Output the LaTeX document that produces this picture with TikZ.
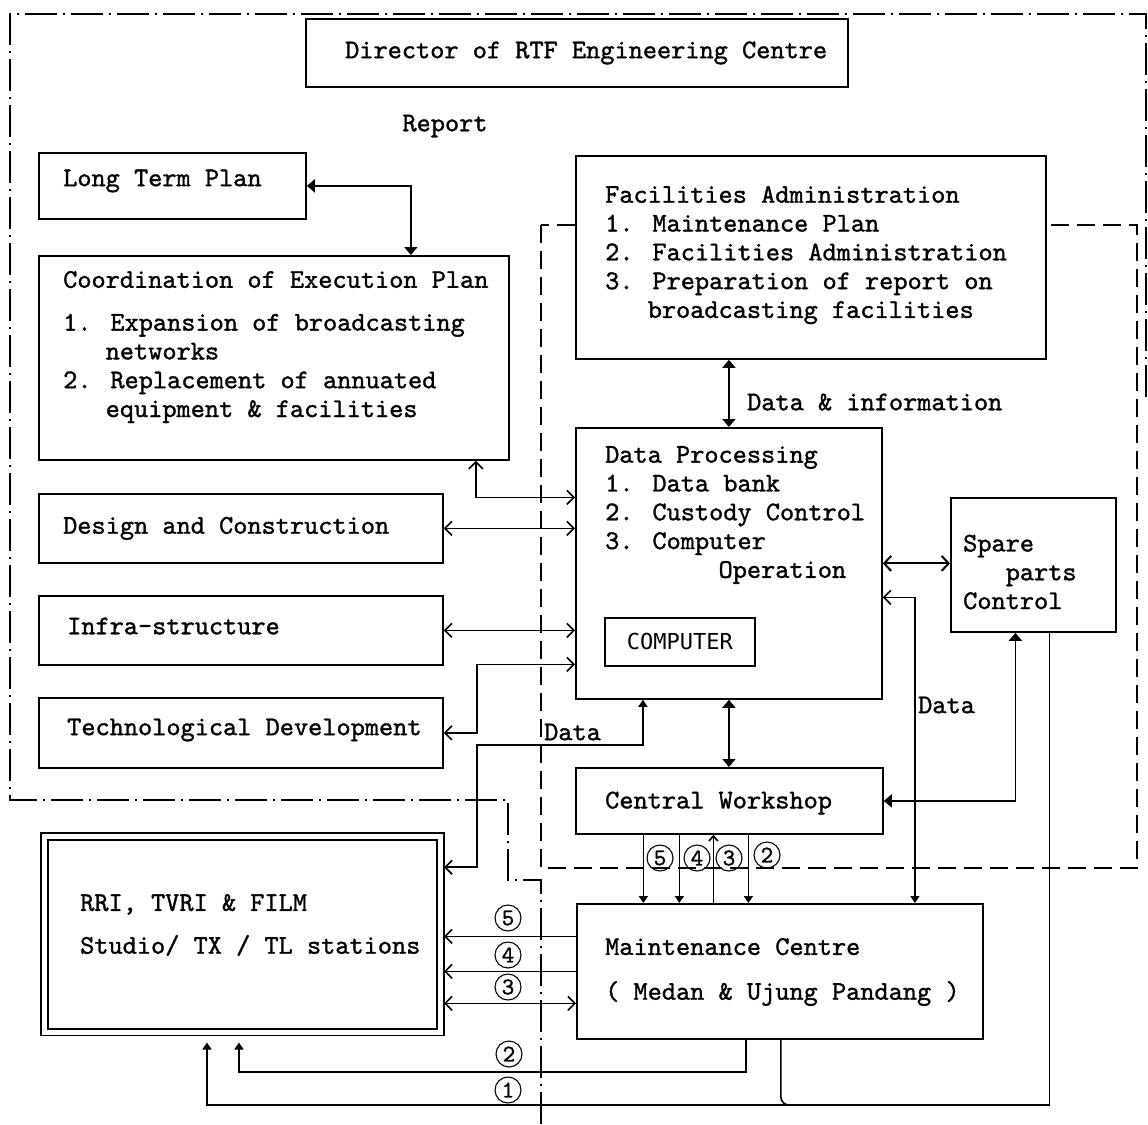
\documentclass[tikz,border=0pt]{standalone}
\usepackage{fontspec}
\usepackage{tikz}
\usetikzlibrary{arrows.meta,positioning}
\newfontfamily\rtftype[FakeBold=1.2]{lmmono10-regular.otf}
\newfontfamily\rtfgothic{DejaVu Sans Mono}
\newcommand{\itemind}{\hspace*{1.575em}}
\tikzset{
  unitbox/.style={rectangle, draw, line width=1.8pt, fill=white, anchor=north west, inner sep=0pt},
  boxtext/.style={anchor=west, align=left, inner sep=0pt, font=\rtftype\fontsize{27}{28.8}\selectfont},
  numcircle/.style={circle, draw, line width=1.1pt, minimum size=26pt, inner sep=0pt,
    font=\rtftype\fontsize{24}{24}\selectfont},
  flowline/.style={line width=1.6pt},
  solidboth/.style={flowline, {Triangle[length=8pt,width=13pt]}-{Triangle[length=8pt,width=13pt]}},
  solidend/.style={flowline, -{Triangle[length=7pt,width=9pt]}},
  openboth/.style={flowline, {Straight Barb[length=7pt,width=14pt]}-{Straight Barb[length=7pt,width=14pt]}},
  openend/.style={flowline, -{Straight Barb[length=7pt,width=14pt]}},
  outerframe/.style={line width=1.5pt, dash pattern=on 32pt off 6pt on 2pt off 6pt},
  innerframe/.style={line width=1.8pt, dash pattern=on 18pt off 8pt},
}
\begin{document}
\begin{tikzpicture}[x=1pt, y=-1pt]
  \useasboundingbox (0,0) rectangle (1148,1124);

  % frames
  \draw[innerframe] (541,225) rectangle (1137,868);
  \draw[outerframe] (541,1124) -- (541,880) -- (508,880) -- (508,800) -- (10,800)
    -- (10,14) -- (1146,14) -- (1146,400);

  % planning side
  \node[unitbox, minimum width=542pt, minimum height=68pt] (director) at (305,18) {};
  \node[boxtext, right=40pt of director.west] (directortext) {Director of RTF Engineering Centre};
  \node[boxtext, anchor=center] (reporttext) at (445,126) {Report};

  \node[unitbox, minimum width=267pt, minimum height=66pt] (ltp) at (38,152) {};
  \node[boxtext] (ltptext) at (63,181) {Long Term Plan};

  \node[unitbox, minimum width=470pt, minimum height=204pt] (coord) at (38,255) {};
  \node[boxtext] (coordtext) at (63,347)
    {Coordination of Execution Plan\\[14pt]
     1. Expansion of broadcasting\\
     \itemind networks\\
     2. Replacement of annuated\\
     \itemind equipment \& facilities};

  \node[unitbox, minimum width=404pt, minimum height=69pt] (design) at (38,493) {};
  \node[boxtext, right=25pt of design.west] (designtext) {Design and Construction};

  \node[unitbox, minimum width=404pt, minimum height=69pt] (infra) at (38,595) {};
  \node[boxtext] (infratext) at (67,626) {Infra-structure};

  \node[unitbox, minimum width=404pt, minimum height=70pt] (tech) at (38,697) {};
  \node[boxtext] (techtext) at (67,730) {Technological Development};

  % facilities side
  \node[unitbox, minimum width=470pt, minimum height=203pt] (fac) at (575,155) {};
  \node[boxtext] (factext) at (605,255)
    {Facilities Administration\\
     1. Maintenance Plan\\
     2. Facilities Administration\\
     3. Preparation of report on\\
     \itemind broadcasting facilities};

  \node[unitbox, minimum width=306pt, minimum height=271pt] (dp) at (575,427) {};
  \node[boxtext] (dptext) at (605,515)
    {Data Processing\\
     1. Data bank\\
     2. Custody Control\\
     3. Computer\\
     \hspace*{4.2em}Operation};
  \node[unitbox, minimum width=150pt, minimum height=48pt, line width=1.6pt,
    font=\rtfgothic\fontsize{22}{22}\selectfont] (comp) at (604,617) {COMPUTER};

  \node[unitbox, minimum width=165pt, minimum height=134pt] (spare) at (950,497) {};
  \node[boxtext] (sparetext) at (963,572)
    {Spare\\
     \itemind parts\\
     Control};

  \node[unitbox, minimum width=307pt, minimum height=66pt] (cw) at (575,767) {};
  \node[boxtext] (cwtext) at (605,803) {Central Workshop};

  % stations and maintenance centre
  \node[unitbox, minimum width=396pt, minimum height=195.5pt, double, double distance=5pt,
    line width=1.6pt, outer sep=3.5pt] (rri) at (41,833) {};
  \node[boxtext] (rritext) at (80,925)
    {RRI, TVRI \& FILM\\[14pt]
     Studio/ TX / TL stations};

  \node[unitbox, minimum width=406pt, minimum height=135pt] (mc) at (576,903) {};
  \node[boxtext] (mctext) at (605,972)
    {Maintenance Centre\\[16pt]
     ( Medan \& Ujung Pandang )};

  % connectors, planning side
  \draw[solidboth] (ltp.east) -| ([xshift=137pt]coord.north);
  \draw[openboth] ([xshift=202pt]coord.south) |- ([yshift=66pt]dp.west);
  \draw[openboth] (design.east) -- (design.east -| dp.west);
  \draw[openboth] (infra.east) -- (infra.east -| dp.west);
  \draw[openboth] ([yshift=-101pt]dp.west) -| ([xshift=33pt]tech.east) -- (tech.east);

  % connectors, facilities side
  \draw[solidboth] (dp.north |- fac.south) -- (dp.north);
  \node[boxtext] (datainfo) at (747,402) {Data \& information};
  \draw[solidboth] (dp.south) -- (dp.south |- cw.north);
  \draw[flowline, line width=2pt, {Straight Barb[length=7pt,width=15pt]}-{Straight Barb[length=7pt,width=15pt]}]
    (dp.east) -- (dp.east -| spare.west);
  \draw[flowline, {Straight Barb[length=7pt,width=14pt]}-{Triangle[length=7pt,width=9pt]}]
    ([yshift=-34pt]dp.east) -| ([xshift=135pt]mc.north);
  \node[boxtext] (datarightlabel) at (918,705) {Data};
  \draw[solidboth] (cw.east) -| ([xshift=-18pt]spare.south);

  % data to the stations
  \coordinate (dataturn) at (477,745);
  \draw[flowline, {Straight Barb[length=7pt,width=14pt]}-{Triangle[length=7pt,width=9pt]}]
    ([yshift=67pt]rri.east) -| (dataturn) -| ([xshift=-86pt]dp.south);
  \node[boxtext] (dataleftlabel) at (544,732) {Data};

  % workshop to maintenance centre
  \coordinate (cwfive) at ([xshift=-86pt]cw.south);
  \coordinate (cwfour) at ([xshift=-50pt]cw.south);
  \coordinate (cwthree) at ([xshift=-16pt]cw.south);
  \coordinate (cwtwo) at ([xshift=19pt]cw.south);
  \draw[solidend] (cwfive) -- (cwfive |- mc.north);
  \draw[solidend] (cwfour) -- (cwfour |- mc.north);
  \draw[flowline, -{Straight Barb[length=5pt,width=9pt]}] (cwthree |- mc.north) -- (cwthree);
  \draw[solidend] (cwtwo) -- (cwtwo |- mc.north);
  \node[numcircle] (cwnumfive) at (660,858) {5};
  \node[numcircle] (cwnumfour) at (697,858) {4};
  \node[numcircle] (cwnumthree) at (729,858) {3};
  \node[numcircle] (cwnumtwo) at (767,855) {2};

  % maintenance centre to the stations
  \coordinate (fiveline) at ([yshift=35pt]mc.west);
  \coordinate (threeline) at ([yshift=-32pt]mc.west);
  \draw[openend] (fiveline) -- (fiveline -| rri.east);
  \draw[openend] (mc.west) -- (mc.west -| rri.east);
  \draw[openboth] (threeline) -- (threeline -| rri.east);
  \coordinate (twoturn) at (239,1072);
  \draw[solidend, shorten >=7pt] ([xshift=-34pt]mc.south) |- (twoturn) -- (twoturn |- rri.south);
  \coordinate (onejoin) at (781,1105);
  \coordinate (oneturn) at (207,1105);
  \draw[solidend, shorten >=7pt] ([xshift=16pt]spare.south) |- (oneturn) -- (oneturn |- rri.south);
  \draw[flowline, rounded corners=8pt] ([xshift=1pt]mc.south) |- ([xshift=16pt]onejoin);
  \node[numcircle] (lnumfive) at (508,918) {5};
  \node[numcircle] (lnumfour) at (508,955) {4};
  \node[numcircle] (lnumthree) at (508,987) {3};
  \node[numcircle] (lnumtwo) at (509,1054) {2};
  \node[numcircle] (lnumone) at (508,1090) {1};
\end{tikzpicture}
\end{document}
